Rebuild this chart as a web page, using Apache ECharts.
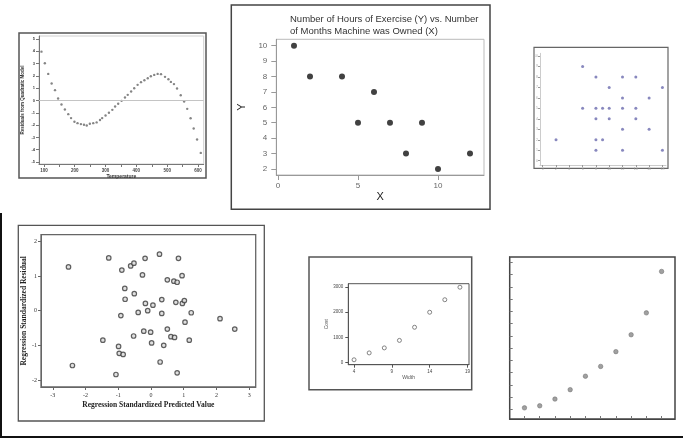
<!DOCTYPE html>
<html><head><meta charset="utf-8">
<script src="https://cdn.jsdelivr.net/npm/echarts@6/dist/echarts.min.js"></script>
<style>html,body{margin:0;padding:0;background:#fff}#c{width:683px;height:440px}</style>
</head><body><div id="c"></div>
<script>
// ---------- Panel 1: residuals vs temperature ----------
const tempX = [92,103,114,125,136,146,157,168,179,188,199,209,220,230,239,249,260,271,282,289,300,311,322,331,341,352,363,372,383,393,404,415,426,437,447,458,469,480,493,504,512,522,532,544,555,565,576,586,597,609];
const residQuad = [3.97,3.03,2.16,1.38,0.84,0.16,-0.32,-0.73,-1.11,-1.43,-1.73,-1.84,-1.92,-1.97,-2.03,-1.89,-1.84,-1.78,-1.59,-1.43,-1.22,-1.0,-0.76,-0.49,-0.27,-0.03,0.24,0.46,0.73,1.0,1.27,1.49,1.65,1.81,1.97,2.08,2.16,2.14,1.92,1.73,1.51,1.33,0.97,0.43,-0.08,-0.68,-1.44,-2.28,-3.17,-4.26];
const tempTickLabels = [100,200,300,400,500,600];
const tempTickMarks = [100,150,200,250,300,350,400,450,500,550,600];
const residTickLabels = [-5,-4,-3,-2,-1,0,1,2,3,4,5];

// ---------- Panel 2: exercise vs months ----------
const monthsOwned = [1,2,4,5,6,7,8,9,10,12];
const exerciseHours = [10,8,8,5,7,5,3,5,2,3];
const monthTicks = [0,5,10];
const hourTicks = [2,3,4,5,6,7,8,9,10];

// ---------- Panel 3: small grid scatter ----------
const p3X = [6,8,12,14,10,18,12,16,6,8,9,10,12,14,8,10,14,12,16,2,8,9,8,12,18];
const p3Y = [9,8,8,8,7,7,6,6,5,5,5,5,5,5,4,4,4,3,3,2,2,2,1,1,1];
const p3XTicks = [0,2,4,6,8,10,12,14,16,18];
const p3YTicks = [0,1,2,3,4,5,6,7,8,9,10];

// ---------- Panel 4: standardized residual vs predicted ----------
const stdPredicted = [-2.52,-1.29,-0.89,-0.62,-0.52,-0.18,-0.26,0.26,0.84,0.50,0.70,0.80,0.95,-0.80,-0.51,-0.79,-0.17,0.06,0.33,0.76,0.96,1.02,-0.39,-0.10,-0.92,0.33,1.23,1.04,2.11,2.56,0.50,-0.22,-0.01,-0.53,0.61,0.72,-1.47,1.17,0.02,0.39,-0.99,-0.97,-0.85,-2.40,0.28,-1.07,0.80];
const stdResidual = [1.26,1.52,1.17,1.29,1.37,1.51,1.03,1.63,1.51,0.89,0.85,0.82,1.01,0.64,0.49,0.33,0.21,0.16,0.32,0.24,0.21,0.29,-0.05,0.0,-0.14,-0.08,-0.06,-0.33,-0.23,-0.53,-0.53,-0.59,-0.62,-0.73,-0.75,-0.77,-0.85,-0.85,-0.93,-1.0,-1.03,-1.23,-1.26,-1.58,-1.48,-1.84,-1.79];
const predTicks = [-3,-2,-1,0,1,2,3];
const residTicks4 = [-2,-1,0,1,2];

// ---------- Panel 5: cost vs width ----------
const widthVals = [4,6,8,10,12,14,16,18];
const costVals = [100,375,575,875,1400,2000,2500,3000];
const widthTicks = [4,9,14,19];
const costTicks = [0,1000,2000,3000];

// ---------- Panel 6: unlabeled growth scatter ----------
const p6X = [1,2,3,4,5,6,7,8,9,10];
const p6Y = [0.11,0.28,0.83,1.6,2.7,3.5,4.71,6.09,7.88,11.27];
const p6XTicks = [1,2,3,4,5,6,7,8,9,10];
const p6YTicks = [0,1,2,3,4,5,6,7,8,9,10,11,12];

const zip = (a, b) => a.map((v, i) => [v, b[i]]);
const SANS = 'Liberation Sans', SERIF = 'Liberation Serif';
const plain = v => String(v);

function ax(o) {
  return {
    type: 'value', gridIndex: o.g, min: o.min, max: o.max,
    splitLine: { show: false },
    axisLine: { show: o.line !== false, onZero: false, lineStyle: { color: o.lc || '#666', width: o.lw || 1 } },
    axisTick: { show: o.tick !== false, inside: !!o.inside, length: o.tl || 3, customValues: o.tv || o.lv, lineStyle: { color: o.tc || o.lc || '#666' } },
    axisLabel: o.lv ? { show: true, customValues: o.lv, formatter: plain, fontSize: o.fs || 5, color: o.fc || '#444', fontFamily: o.ff || SANS, fontWeight: o.fw || 'normal', margin: o.m || 3 } : { show: false },
    name: o.name || '', nameLocation: 'middle', nameGap: o.gap || 10,
    nameTextStyle: { fontSize: o.nfs || 5, color: o.nc || '#333', fontFamily: o.nff || o.ff || SANS, fontWeight: o.nfw || 'normal' }
  };
}

const grids = [
  { left: 39, top: 36, width: 164.7, height: 128, show: true, borderColor: '#cfcfcf', borderWidth: 1 },
  { left: 276.3, top: 39.3, width: 207.7, height: 135.7, show: true, borderColor: '#bbb', borderWidth: 1 },
  { left: 540, top: 53.3, width: 126, height: 111.7, show: false },
  { left: 41, top: 234.7, width: 214.7, height: 152.3, show: true, borderColor: '#666', borderWidth: 1.3 },
  { left: 348.3, top: 283.7, width: 120.7, height: 81, show: true, borderColor: '#555', borderWidth: 1 },
  { left: 509.7, top: 257, width: 165.3, height: 162, show: true, borderColor: '#444', borderWidth: 1.5 }
].map(g => Object.assign(g, { containLabel: false, outerBoundsMode: 'none' }));

const xAxes = [
  ax({ g: 0, min: 84, max: 618.5, lv: tempTickLabels, tv: tempTickMarks, fs: 4.5, fw: 'bold', m: 4, lc: '#777', name: 'Temperature', gap: 9, nfs: 5, nfw: 'bold' }),
  ax({ g: 1, min: -0.106, max: 12.875, lv: monthTicks, tl: 5, fs: 8, fc: '#666', m: 7, lc: '#999', name: 'X', gap: 16, nfs: 11, nc: '#222' }),
  ax({ g: 2, min: -0.41, max: 18.54, lv: p3XTicks, fs: 3.5, fc: '#aaa', m: 2, lc: '#ccc', tc: '#999', tl: 2 }),
  ax({ g: 3, min: -3.36, max: 3.2, lv: predTicks, fs: 6, ff: SERIF, fc: '#333', m: 5, lc: '#666', name: 'Regression Standardized Predicted Value', gap: 14, nfs: 7.5, nfw: 'bold', nc: '#222' }),
  ax({ g: 4, min: 3.24, max: 19.2, lv: widthTicks, fs: 4.5, fc: '#444', m: 5, lc: '#555', name: 'Width', gap: 10, nfs: 5, nc: '#555' }),
  ax({ g: 5, min: 0.03, max: 10.88, tv: p6XTicks, inside: true, lc: '#444', tc: '#777', tl: 3 })
];
const yAxes = [
  ax({ g: 0, min: -5.16, max: 5.24, lv: residTickLabels, fs: 4, fw: 'bold', m: 4, lc: '#777', name: 'Residuals from Quadratic Model', gap: 14, nfs: 4.5, nfw: 'bold' }),
  ax({ g: 1, min: 1.604, max: 10.416, lv: hourTicks, tl: 5, fs: 8, fc: '#666', m: 9, lc: '#999', name: 'Y', gap: 29, nfs: 11, nc: '#222' }),
  ax({ g: 2, min: -0.41, max: 10.26, lv: p3YTicks, fs: 3.5, fc: '#aaa', m: 2, lc: '#ccc', tc: '#999', tl: 2 }),
  ax({ g: 3, min: -2.2, max: 2.19, lv: residTicks4, fs: 6, ff: SERIF, fc: '#333', m: 4, lc: '#666', name: 'Regression Standardized Residual', gap: 10, nfs: 7.5, nfw: 'bold', nc: '#222' }),
  ax({ g: 4, min: -96, max: 3140, lv: costTicks, fs: 4.5, fc: '#444', m: 5, lc: '#555', name: 'Cost', gap: 18, nfs: 5, nc: '#555' }),
  ax({ g: 5, min: -0.8, max: 12.45, tv: p6YTicks, inside: true, lc: '#444', tc: '#777', tl: 3 })
];

const sc = (i, data, sym, size, style, extra) => Object.assign({
  type: 'scatter', xAxisIndex: i, yAxisIndex: i, data, symbol: sym, symbolSize: size,
  itemStyle: style, silent: true, animation: false
}, extra || {});

const series = [
  sc(0, zip(tempX, residQuad), 'circle', 2.4, { color: '#666' }, {
    markLine: { silent: true, symbol: 'none', label: { show: false }, animation: false,
      lineStyle: { color: '#c4c4c4', type: 'solid', width: 1 }, data: [{ yAxis: 0 }] }
  }),
  sc(1, zip(monthsOwned, exerciseHours), 'circle', 6, { color: '#111' }),
  sc(2, zip(p3X, p3Y), 'circle', 3, { color: '#6a6aae' }),
  sc(3, zip(stdPredicted, stdResidual), 'circle', 4.5, { color: '#d8d8d8', borderColor: '#3a3a3a', borderWidth: 1.2 }),
  sc(4, zip(widthVals, costVals), 'circle', 4, { color: '#fff', borderColor: '#666', borderWidth: 1 }),
  sc(5, zip(p6X, p6Y), 'circle', 4.5, { color: '#888', borderColor: '#666', borderWidth: 0.6 })
];

const frame = (x, y, w, h, c, lw) => ({ type: 'rect', silent: true, shape: { x, y, width: w, height: h }, style: { fill: 'none', stroke: c, lineWidth: lw } });

const chart = echarts.init(document.getElementById('c'), null, { renderer: 'canvas' });
chart.setOption({
  animation: false,
  backgroundColor: '#fff',
  title: [{
    text: 'Number of Hours of Exercise (Y) vs. Number\nof Months Machine was Owned (X)',
    left: 285, top: 9,
    textStyle: { fontSize: 9.5, fontWeight: 'normal', color: '#333', fontFamily: SANS, lineHeight: 11.7 }
  }],
  grid: grids,
  xAxis: xAxes,
  yAxis: yAxes,
  series,
  graphic: [
    frame(19, 33, 187, 145, '#555', 1.5),
    frame(231.3, 5, 258.7, 204.3, '#444', 1.5),
    frame(534, 47.3, 134, 121, '#666', 1.2),
    frame(18.3, 225.3, 246, 195.7, '#555', 1.3),
    frame(309, 257, 162.7, 132.7, '#555', 1.5),
    { type: 'line', silent: true, shape: { x1: 1, y1: 213, x2: 1, y2: 437 }, style: { stroke: '#111', lineWidth: 2 } },
    { type: 'line', silent: true, shape: { x1: 0, y1: 437, x2: 683, y2: 437 }, style: { stroke: '#111', lineWidth: 2 } }
  ]
});
</script></body></html>
